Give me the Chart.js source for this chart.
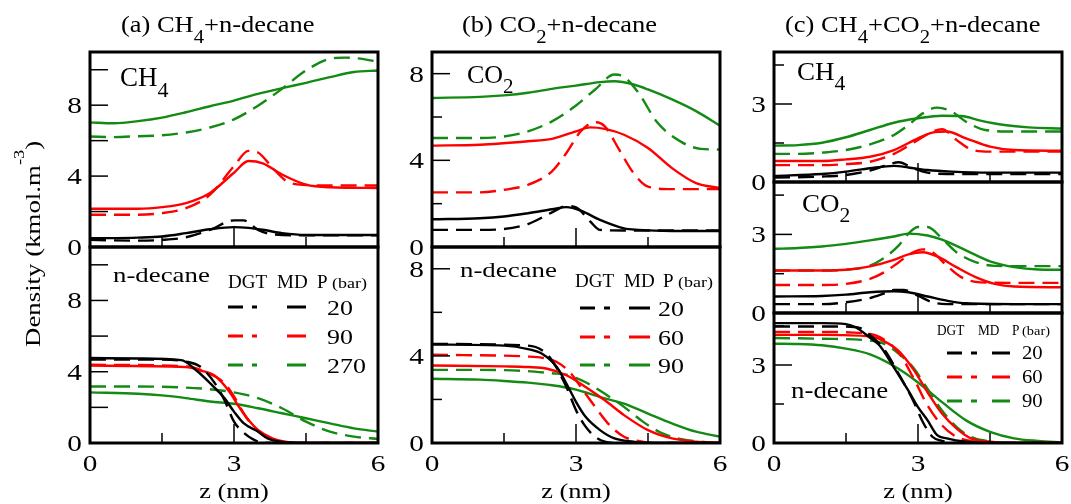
<!DOCTYPE html>
<html><head><meta charset="utf-8">
<script src="https://cdn.jsdelivr.net/npm/chart.js@4.4.0/dist/chart.umd.min.js"></script>
<style>
html,body{margin:0;padding:0;background:#fff;}
#wrap{position:relative;width:1071px;height:504px;overflow:hidden;background:#fff;}
#wrap canvas{position:absolute;left:0;top:0;}
#probe{position:absolute;left:-500px;top:0;font-family:"Liberation Serif";font-size:20px;}
</style></head><body><div id="wrap"></div><span id="probe">Liberation Serif probe 0123 (bar)</span>
<script>
// ---------- data: [z (nm), density (kmol/m3)] ----------
// (a) CH4 + n-decane, CH4 profile
const a_ch4_md20  = [[0,0.49],[1,0.53],[1.5,0.59],[2,0.78],[2.5,1.0],[3,1.12],[3.3,1.08],[3.6,0.97],[4,0.78],[4.5,0.68],[5,0.68],[6,0.68]];
const a_ch4_dgt20 = [[0,0.4],[1,0.36],[1.5,0.4],[2,0.55],[2.5,0.97],[3,1.5],[3.2,1.5],[3.5,0.97],[3.8,0.72],[4.5,0.66],[6,0.66]];
const a_ch4_md90  = [[0,2.16],[1,2.16],[1.5,2.25],[2,2.48],[2.5,3.05],[3,4.19],[3.3,4.85],[3.6,4.72],[4,4.09],[4.5,3.52],[5,3.37],[6,3.33]];
const a_ch4_dgt90 = [[0,1.82],[1,1.82],[1.5,1.91],[2,2.19],[2.5,2.95],[3,4.56],[3.3,5.42],[3.5,5.33],[3.8,4.47],[4.1,3.71],[4.5,3.5],[5,3.47],[6,3.47]];
const a_ch4_md270 = [[0,7.03],[0.5,6.98],[1,7.1],[1.5,7.3],[2,7.6],[2.5,7.94],[3,8.26],[3.5,8.64],[4,8.96],[4.5,9.26],[5,9.58],[5.5,9.87],[6,9.96]];
const a_ch4_dgt270= [[0,6.23],[0.5,6.2],[1,6.25],[1.5,6.3],[2,6.46],[2.5,6.74],[3,7.2],[3.5,7.97],[4,8.92],[4.5,9.96],[5,10.62],[5.3,10.68],[5.7,10.6],[6,10.44]];
// (a) n-decane profile
const a_dec_md20  = [[0,4.77],[1,4.74],[1.9,4.65],[2.2,4.11],[2.5,3.36],[2.8,2.52],[3,1.76],[3.2,1.11],[3.5,0.64],[3.7,0.26],[4,0.06],[4.5,0],[6,0]];
const a_dec_dgt20 = [[0,4.68],[1.5,4.68],[2,4.57],[2.3,4.28],[2.6,3.36],[2.8,2.42],[3,1.2],[3.2,0.58],[3.4,0.2],[3.6,0.02],[4,0],[6,0]];
const a_dec_md90  = [[0,4.34],[2,4.26],[2.3,4.07],[2.6,3.77],[2.9,2.89],[3.1,2.05],[3.3,1.3],[3.5,0.73],[3.8,0.26],[4.1,0.06],[4.5,0],[6,0]];
const a_dec_dgt90 = [[0,4.39],[2,4.3],[2.5,3.88],[2.8,3.36],[3,2.61],[3.2,1.67],[3.4,0.92],[3.6,0.45],[3.9,0.13],[4.3,0],[6,0]];
const a_dec_md270 = [[0,2.84],[1,2.76],[1.5,2.67],[2,2.52],[2.5,2.33],[3,2.2],[3.5,1.95],[4,1.67],[4.5,1.39],[5,1.1],[5.5,0.82],[6,0.64]];
const a_dec_dgt270= [[0,3.17],[1,3.17],[2,3.11],[2.5,3.02],[3,2.84],[3.5,2.52],[4,1.95],[4.5,1.2],[5,0.64],[5.5,0.36],[6,0.23]];
// (b) CO2 + n-decane, CO2 profile
const b_co2_md20  = [[0,1.28],[1,1.33],[1.5,1.41],[2,1.56],[2.5,1.74],[2.8,1.84],[3.1,1.68],[3.5,1.25],[4,0.86],[4.3,0.79],[5,0.74],[6,0.74]];
const b_co2_dgt20 = [[0,0.79],[1,0.79],[1.5,0.83],[2,1.06],[2.5,1.6],[2.8,1.89],[3,1.83],[3.3,1.17],[3.5,0.79],[4,0.76],[6,0.76]];
const b_co2_md60  = [[0,4.68],[1,4.72],[2,4.88],[2.5,4.99],[3,5.34],[3.3,5.52],[3.6,5.45],[4,5.18],[4.5,4.57],[5,3.64],[5.5,2.95],[6,2.72]];
const b_co2_dgt60 = [[0,2.52],[1,2.52],[1.5,2.64],[2,2.87],[2.5,3.49],[2.8,4.34],[3.1,5.34],[3.4,5.76],[3.6,5.57],[3.9,4.49],[4.2,3.41],[4.5,2.79],[5,2.67],[6,2.67]];
const b_co2_md90  = [[0,6.88],[1,6.93],[1.5,7.0],[2,7.12],[2.5,7.3],[3,7.45],[3.5,7.61],[3.8,7.65],[4.2,7.5],[4.5,7.27],[5,6.81],[5.5,6.27],[6,5.6]];
const b_co2_dgt90 = [[0,5.03],[1,5.03],[1.5,5.1],[2,5.34],[2.5,5.8],[3,6.53],[3.4,7.27],[3.8,7.96],[4,7.86],[4.3,7.12],[4.7,5.73],[5.2,4.84],[5.6,4.53],[6,4.5]];
// (b) n-decane profile
const b_dec_md20  = [[0,4.52],[1.5,4.47],[2,4.31],[2.3,4.09],[2.6,3.49],[2.8,2.73],[3,1.89],[3.2,1.2],[3.5,0.59],[3.8,0.21],[4.2,0.06],[4.5,0],[6,0]];
const b_dec_dgt20 = [[0,4.55],[2,4.47],[2.3,4.25],[2.5,3.79],[2.8,2.57],[3,1.51],[3.2,0.75],[3.4,0.29],[3.6,0.06],[3.8,0],[6,0]];
const b_dec_md60  = [[0,3.56],[1.5,3.52],[2,3.49],[2.4,3.41],[2.8,3.11],[3.2,2.57],[3.6,1.96],[4,1.28],[4.5,0.59],[5,0.21],[5.5,0.06],[6,0]];
const b_dec_dgt60 = [[0,4.05],[2,3.97],[2.3,3.91],[2.6,3.72],[2.9,3.18],[3.1,2.57],[3.4,1.66],[3.7,0.82],[4,0.29],[4.3,0.09],[4.6,0],[6,0]];
const b_dec_md90  = [[0,2.95],[1,2.91],[1.5,2.85],[2,2.77],[2.5,2.65],[3,2.45],[3.5,2.11],[4,1.81],[4.5,1.35],[5,0.9],[5.5,0.52],[6,0.29]];
const b_dec_dgt90 = [[0,3.36],[1,3.36],[2,3.3],[2.5,3.2],[2.8,3.14],[3.2,2.79],[3.6,2.26],[4,1.66],[4.4,0.97],[4.8,0.44],[5.2,0.17],[5.6,0.06],[6,0]];
// (c) CH4 + CO2 + n-decane, CH4 profile
const c_ch4_md20  = [[0,0.23],[1,0.31],[1.5,0.4],[2,0.53],[2.5,0.62],[2.8,0.56],[3.2,0.46],[3.7,0.4],[4.5,0.36],[6,0.36]];
const c_ch4_dgt20 = [[0,0.17],[1,0.21],[1.5,0.27],[2,0.44],[2.3,0.62],[2.6,0.76],[2.9,0.53],[3.2,0.36],[3.6,0.31],[6,0.31]];
const c_ch4_md60  = [[0,0.81],[1,0.81],[1.5,0.87],[2,0.97],[2.5,1.23],[3,1.68],[3.3,1.9],[3.6,1.94],[4,1.68],[4.5,1.36],[5,1.23],[6,1.2]];
const c_ch4_dgt60 = [[0,0.65],[1,0.65],[1.5,0.69],[2,0.78],[2.5,1.08],[3,1.62],[3.3,1.94],[3.5,2.03],[3.8,1.62],[4.1,1.26],[4.5,1.17],[6,1.17]];
const c_ch4_md90  = [[0,1.4],[0.5,1.42],[1,1.51],[1.5,1.72],[2,2.0],[2.5,2.28],[3,2.45],[3.5,2.55],[3.9,2.54],[4.3,2.36],[4.8,2.19],[5.3,2.1],[6,2.06]];
const c_ch4_dgt90 = [[0,1.08],[0.5,1.08],[1,1.13],[1.5,1.23],[2,1.45],[2.5,1.81],[2.8,2.19],[3.1,2.64],[3.4,2.86],[3.7,2.71],[4,2.32],[4.4,2.0],[5,1.94],[6,1.94]];
// (c) CO2 profile
const c_co2_md20  = [[0,0.63],[1,0.65],[1.5,0.7],[2,0.79],[2.5,0.83],[2.8,0.79],[3.2,0.63],[3.6,0.47],[4,0.37],[5,0.34],[6,0.34]];
const c_co2_dgt20 = [[0,0.34],[1,0.34],[1.5,0.41],[2,0.57],[2.3,0.75],[2.5,0.88],[2.7,0.88],[3,0.66],[3.3,0.41],[3.6,0.34],[6,0.34]];
const c_co2_md60  = [[0,1.62],[1,1.62],[1.5,1.65],[2,1.78],[2.5,2.03],[2.8,2.24],[3.1,2.32],[3.4,2.16],[3.8,1.75],[4.2,1.37],[4.6,1.11],[5,1.01],[6,0.98]];
const c_co2_dgt60 = [[0,1.07],[1,1.07],[1.5,1.11],[2,1.3],[2.3,1.56],[2.6,1.94],[2.9,2.32],[3.1,2.43],[3.3,2.32],[3.6,1.81],[3.9,1.37],[4.3,1.17],[5,1.15],[6,1.15]];
const c_co2_md90  = [[0,2.45],[0.5,2.48],[1,2.54],[1.5,2.64],[2,2.77],[2.5,2.92],[2.8,3.03],[3.2,2.96],[3.5,2.8],[4,2.39],[4.5,1.97],[5,1.75],[5.5,1.66],[6,1.65]];
const c_co2_dgt90 = [[0,1.62],[1,1.62],[1.5,1.65],[2,1.81],[2.3,2.11],[2.6,2.58],[2.8,3.03],[3,3.28],[3.2,3.28],[3.5,2.84],[3.8,2.32],[4.2,1.94],[4.6,1.8],[5,1.79],[6,1.79]];
// (c) n-decane profile
const c_dec_md20  = [[0,4.61],[1,4.61],[1.5,4.57],[1.7,4.45],[2,4.05],[2.2,3.75],[2.5,2.9],[2.8,2.01],[3,1.38],[3.2,0.87],[3.4,0.3],[3.6,0.18],[4,0.05],[4.5,0],[6,0]];
const c_dec_dgt20 = [[0,4.48],[1.5,4.48],[1.8,4.42],[2,4.16],[2.3,3.59],[2.6,2.65],[2.9,1.63],[3.1,0.81],[3.3,0.24],[3.5,0.08],[3.8,0],[6,0]];
const c_dec_md60  = [[0,4.16],[1,4.16],[2,4.1],[2.3,3.91],[2.6,3.53],[2.9,2.84],[3.2,1.95],[3.5,1.13],[3.8,0.56],[4.1,0.18],[4.5,0.05],[5,0],[6,0]];
const c_dec_dgt60 = [[0,4.27],[1,4.27],[2,4.19],[2.3,3.97],[2.6,3.47],[2.9,2.52],[3.2,1.44],[3.5,0.68],[3.8,0.24],[4.1,0.08],[4.4,0],[6,0]];
const c_dec_md90  = [[0,3.82],[0.5,3.81],[1,3.76],[1.5,3.63],[2,3.41],[2.5,2.96],[3,2.33],[3.5,1.57],[4,0.87],[4.5,0.43],[5,0.18],[5.5,0.08],[6,0.02]];
const c_dec_dgt90 = [[0,4.04],[1,4.01],[2,3.94],[2.3,3.81],[2.6,3.43],[2.9,2.9],[3.2,2.08],[3.5,1.25],[3.8,0.62],[4.1,0.24],[4.4,0.09],[4.8,0],[6,0]];

// tick labels / legend labels
const xTickLabels = [0, 3, 6];
const xMinorTicks = [1.5, 4.5];
const yTicksAB = [0, 4, 8];
const yMinorAB = [2, 6, 10];
const yTicksC = [0, 3];
const yMinorC = [1.5, 4.5];
const pressuresA = ['20', '90', '270'];
const pressuresBC = ['20', '60', '90'];

// ---------- styling ----------
const BLACK = '#000000', RED = '#ff0000', GREEN = '#138a13';
const FAM = '"Liberation Serif", "Times New Roman", Tinos, serif';

function fnt(s, size) {
  const f = s.size ? s.size : (s.k === 1 ? size * 0.8 : s.k === 2 ? size * 0.7 : size);
  return Math.round(f) + 'px ' + FAM;
}
function rich(ctx, parts, x, y, o) {
  const size = o.size, sx = o.sx || 1;
  ctx.save();
  ctx.translate(x, y);
  if (o.rot) ctx.rotate(o.rot);
  ctx.scale(sx, 1);
  ctx.fillStyle = '#000';
  ctx.textBaseline = 'alphabetic';
  ctx.textAlign = 'left';
  const seg = parts.map(p => typeof p === 'string' ? {t: p, k: 0} : p);
  let w = 0;
  seg.forEach(s => { ctx.font = fnt(s, size); s.w = ctx.measureText(s.t).width; w += s.w; });
  let cx = o.align === 'center' ? -w / 2 : o.align === 'right' ? -w : 0;
  seg.forEach(s => {
    ctx.font = fnt(s, size);
    const dy = s.k === 1 ? size * (o.subDy || 0.42) : s.k === 2 ? -size * (o.supDy || 0.8) : 0;
    ctx.fillText(s.t, cx, dy);
    cx += s.w;
  });
  ctx.restore();
}
function seg(ctx, x1, y1, x2, y2) { ctx.beginPath(); ctx.moveTo(x1, y1); ctx.lineTo(x2, y2); ctx.stroke(); }

function decor(p) {
  return {
    id: 'decor',
    afterDraw(chart) {
      const ctx = chart.ctx, a = chart.chartArea, xs = chart.scales.x, ys = chart.scales.y;
      ctx.save();
      ctx.strokeStyle = '#000';
      ctx.lineWidth = 1.5;
      p.yMaj.forEach(v => { if (v > 0 && v < p.ymax) { const py = ys.getPixelForValue(v); seg(ctx, a.left, py, a.left + 18, py); } });
      p.yMin.forEach(v => { if (v < p.ymax) { const py = ys.getPixelForValue(v); seg(ctx, a.left, py, a.left + p.minorLen, py); } });
      xTickLabels.forEach(v => { if (v > 0 && v < 6) { const px = xs.getPixelForValue(v); seg(ctx, px, a.bottom, px, a.bottom - 19); } });
      xMinorTicks.forEach(v => { const px = xs.getPixelForValue(v); seg(ctx, px, a.bottom, px, a.bottom - 10); });
      ctx.lineWidth = 3;
      ctx.strokeRect(a.left, a.top, a.right - a.left, a.bottom - a.top);
      p.yMaj.forEach(v => { const py = ys.getPixelForValue(v); rich(ctx, [String(v)], a.left - 8, py + 8, {size: 24, sx: 1.22, align: 'right'}); });
      if (p.xlabels) xTickLabels.forEach(v => { const px = xs.getPixelForValue(v); rich(ctx, [String(v)], px, a.bottom + 28, {size: 24, sx: 1.22, align: 'center'}); });
      (p.texts || []).forEach(t => rich(ctx, t.parts, t.x, t.y, t));
      const L = p.legend;
      if (L) {
        rich(ctx, ['DGT'], L.dgtX, L.headY, {size: L.hSize, sx: L.hSx});
        rich(ctx, ['MD'], L.mdX, L.headY, {size: L.hSize, sx: L.hSx});
        rich(ctx, ['P'], L.pX, L.headY, {size: L.hSize, sx: L.hSx});
        rich(ctx, ['(bar)'], L.barX, L.headY, {size: L.bSize, sx: 1.2});
        L.labels.forEach((lab, i) => {
          const ry = L.rows[i];
          ctx.strokeStyle = [BLACK, RED, GREEN][i];
          ctx.lineWidth = 3;
          ctx.setLineDash([15, 9]);
          seg(ctx, L.g1[0], ry, L.g1[1], ry);
          ctx.setLineDash([]);
          seg(ctx, L.g2[0], ry, L.g2[1], ry);
          rich(ctx, [lab], L.valX, ry + L.vDy, {size: L.vSize, sx: L.vSx});
        });
      }
      ctx.restore();
    }
  };
}

function ser(pts, color, dgt) { return {pts, color, dgt}; }

const titleOpt = {size: 23, sx: 1.15, subDy: 0.46};
const decOpt = {size: 22, sx: 1.22};
const panels = [
  {l: 90, r: 378, t: 52, b: 247, ymax: 11, yMaj: yTicksAB, yMin: yMinorAB, minorLen: 18, xlabels: false,
   series: [ser(a_ch4_dgt20, BLACK, 1), ser(a_ch4_md20, BLACK, 0), ser(a_ch4_dgt90, RED, 1), ser(a_ch4_md90, RED, 0), ser(a_ch4_dgt270, GREEN, 1), ser(a_ch4_md270, GREEN, 0)],
   texts: [
     Object.assign({parts: ['(a) CH', {t: '4', k: 1}, '+n-decane'], x: 121, y: 32}, titleOpt),
     {parts: ['CH', {t: '4', k: 1}], x: 120, y: 86, size: 27, sx: 1.0, subDy: 0.4},
     {parts: ['Density (kmol.m', {t: '-3', k: 2}, ')'], x: 40, y: 347, size: 22, sx: 1.22, rot: -Math.PI / 2, supDy: 0.75}
   ]},
  {l: 90, r: 378, t: 247, b: 443, ymax: 11, yMaj: yTicksAB, yMin: yMinorAB, minorLen: 18, xlabels: true,
   series: [ser(a_dec_dgt20, BLACK, 1), ser(a_dec_md20, BLACK, 0), ser(a_dec_dgt90, RED, 1), ser(a_dec_md90, RED, 0), ser(a_dec_dgt270, GREEN, 1), ser(a_dec_md270, GREEN, 0)],
   texts: [
     Object.assign({parts: ['n-decane'], x: 113, y: 282}, decOpt),
     {parts: ['z (nm)'], x: 234, y: 498, size: 22, sx: 1.2, align: 'center'}
   ],
   legend: {headY: 288, dgtX: 228, mdX: 277, pX: 317, barX: 332, hSize: 19, hSx: 1.0, bSize: 15,
            rows: [307, 336, 365], g1: [228, 257], g2: [287, 306], valX: 327, vDy: 8, vSize: 22, vSx: 1.18, labels: pressuresA}},
  {l: 432, r: 720, t: 52, b: 247, ymax: 9, yMaj: yTicksAB, yMin: yMinorAB, minorLen: 10, xlabels: false,
   series: [ser(b_co2_dgt20, BLACK, 1), ser(b_co2_md20, BLACK, 0), ser(b_co2_dgt60, RED, 1), ser(b_co2_md60, RED, 0), ser(b_co2_dgt90, GREEN, 1), ser(b_co2_md90, GREEN, 0)],
   texts: [
     Object.assign({parts: ['(b) CO', {t: '2', k: 1}, '+n-decane'], x: 462, y: 32}, titleOpt),
     {parts: ['CO', {t: '2', k: 1}], x: 467, y: 83, size: 26, sx: 1.0, subDy: 0.4}
   ]},
  {l: 432, r: 720, t: 247, b: 443, ymax: 9, yMaj: yTicksAB, yMin: yMinorAB, minorLen: 10, xlabels: true,
   series: [ser(b_dec_dgt20, BLACK, 1), ser(b_dec_md20, BLACK, 0), ser(b_dec_dgt60, RED, 1), ser(b_dec_md60, RED, 0), ser(b_dec_dgt90, GREEN, 1), ser(b_dec_md90, GREEN, 0)],
   texts: [
     Object.assign({parts: ['n-decane'], x: 460, y: 277}, decOpt),
     {parts: ['z (nm)'], x: 576, y: 498, size: 22, sx: 1.2, align: 'center'}
   ],
   legend: {headY: 287, dgtX: 575, mdX: 624, pX: 663, barX: 678, hSize: 19, hSx: 1.0, bSize: 15,
            rows: [308, 337, 365], g1: [580, 610], g2: [629, 650], valX: 658, vDy: 8, vSize: 22, vSx: 1.18, labels: pressuresBC}},
  {l: 774, r: 1062, t: 52, b: 182, ymax: 5, yMaj: yTicksC, yMin: yMinorC, minorLen: 10, xlabels: false,
   series: [ser(c_ch4_dgt20, BLACK, 1), ser(c_ch4_md20, BLACK, 0), ser(c_ch4_dgt60, RED, 1), ser(c_ch4_md60, RED, 0), ser(c_ch4_dgt90, GREEN, 1), ser(c_ch4_md90, GREEN, 0)],
   texts: [
     Object.assign({parts: ['(c) CH', {t: '4', k: 1}, '+CO', {t: '2', k: 1}, '+n-decane'], x: 785, y: 32}, titleOpt),
     {parts: ['CH', {t: '4', k: 1}], x: 797, y: 80, size: 25, sx: 1.08, subDy: 0.4}
   ]},
  {l: 774, r: 1062, t: 182, b: 313, ymax: 5, yMaj: yTicksC, yMin: yMinorC, minorLen: 10, xlabels: false,
   series: [ser(c_co2_dgt20, BLACK, 1), ser(c_co2_md20, BLACK, 0), ser(c_co2_dgt60, RED, 1), ser(c_co2_md60, RED, 0), ser(c_co2_dgt90, GREEN, 1), ser(c_co2_md90, GREEN, 0)],
   texts: [
     {parts: ['CO', {t: '2', k: 1}], x: 802, y: 212, size: 25, sx: 1.08, subDy: 0.4}
   ]},
  {l: 774, r: 1062, t: 313, b: 443, ymax: 5, yMaj: yTicksC, yMin: yMinorC, minorLen: 10, xlabels: true,
   series: [ser(c_dec_dgt20, BLACK, 1), ser(c_dec_md20, BLACK, 0), ser(c_dec_dgt60, RED, 1), ser(c_dec_md60, RED, 0), ser(c_dec_dgt90, GREEN, 1), ser(c_dec_md90, GREEN, 0)],
   texts: [
     {parts: ['n-decane'], x: 791, y: 398, size: 23, sx: 1.17},
     {parts: ['z (nm)'], x: 918, y: 498, size: 22, sx: 1.2, align: 'center'}
   ],
   legend: {headY: 335, dgtX: 937, mdX: 978, pX: 1012, barX: 1022, hSize: 14, hSx: 0.95, bSize: 12,
            rows: [353, 377, 401], g1: [947, 977], g2: [992, 1010], valX: 1022, vDy: 6, vSize: 18, vSx: 1.15, labels: pressuresBC}}
];

function build() {
  const wrap = document.getElementById('wrap');
  panels.forEach(p => {
    const cv = document.createElement('canvas');
    cv.width = 1071; cv.height = 504;
    cv.style.width = '1071px'; cv.style.height = '504px';
    wrap.appendChild(cv);
    new Chart(cv, {
      type: 'line',
      data: {
        datasets: p.series.map(s => ({
          data: s.pts.map(([x, y]) => ({x, y})),
          borderColor: s.color,
          borderWidth: 2.4,
          borderDash: s.dgt ? [16, 8] : [],
          pointRadius: 0,
          fill: false,
          cubicInterpolationMode: 'monotone'
        }))
      },
      options: {
        responsive: false,
        animation: false,
        devicePixelRatio: 1,
        events: [],
        layout: {padding: {left: p.l, top: p.t, right: 1071 - p.r, bottom: 504 - p.b}},
        scales: {
          x: {type: 'linear', min: 0, max: 6, display: false},
          y: {type: 'linear', min: 0, max: p.ymax, display: false}
        },
        plugins: {legend: {display: false}, tooltip: {enabled: false}, title: {display: false}}
      },
      plugins: [decor(p)]
    });
  });
}
let built = false;
function go() { if (!built) { built = true; build(); } }
if (document.fonts && document.fonts.load) {
  Promise.all(['24px "Liberation Serif"', '12px "Liberation Serif"'].map(f => document.fonts.load(f)))
    .then(go, go);
  setTimeout(go, 1500);
} else { go(); }
</script>
</body></html>
